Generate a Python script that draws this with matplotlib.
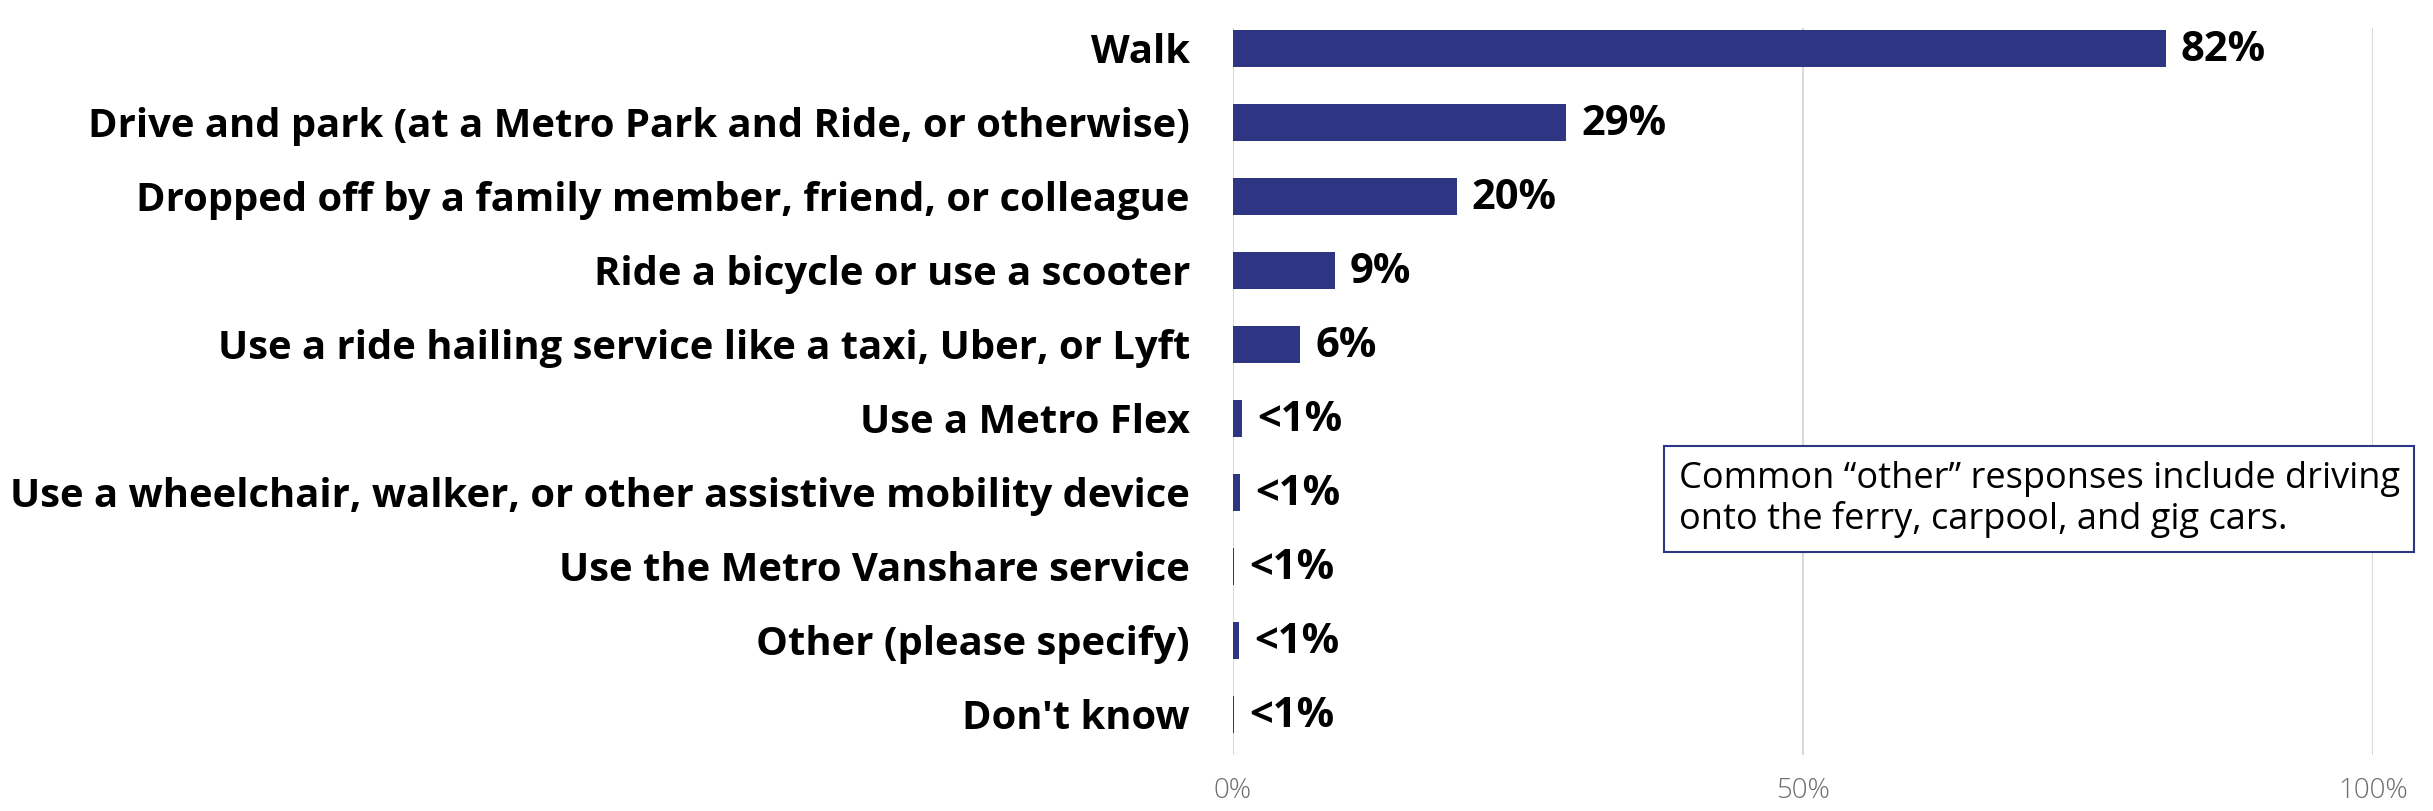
import matplotlib
matplotlib.use("Agg")
import matplotlib.pyplot as plt
from matplotlib.ticker import FuncFormatter

categories = [
    "Walk",
    "Drive and park (at a Metro Park and Ride, or otherwise)",
    "Dropped off by a family member, friend, or colleague",
    "Ride a bicycle or use a scooter",
    "Use a ride hailing service like a taxi, Uber, or Lyft",
    "Use a Metro Flex",
    "Use a wheelchair, walker, or other assistive mobility device",
    "Use the Metro Vanshare service",
    "Other (please specify)",
    "Don't know",
]
values = [0.818, 0.292, 0.196, 0.089, 0.059, 0.008, 0.006, 0.001, 0.005, 0.001]
value_labels = ["82%", "29%", "20%", "9%", "6%", "<1%", "<1%", "<1%", "<1%", "<1%"]
note = "Common \u201cother\u201d responses include driving\nonto the ferry, carpool, and gig cars."

bar_color = "#2E3583"
font = "Open Sans"

fig = plt.figure(figsize=(24.33, 8.11), dpi=100)
ax = fig.add_axes([0.5068, 0.069, 0.4686, 0.896])

y = list(range(len(categories)))
ax.barh(y, values, height=0.5, color=bar_color, zorder=3)

for yi, v, lab in zip(y, values, value_labels):
    ax.annotate(lab, (v, yi), xytext=(11, -1.5), textcoords="offset points",
                va="center", ha="left", fontsize=30, fontweight="bold",
                family=font, color="black")

ax.set_xlim(0, 1.0)
ax.set_ylim(9.55, -0.27)
ax.set_xticks([0, 0.5, 1.0])
ax.xaxis.set_major_formatter(FuncFormatter(lambda x, p: f"{x:.0%}"))
ax.set_yticks(y)
ax.set_yticklabels(categories, fontsize=28.8, fontweight="bold", family=font)
ax.tick_params(axis="y", length=0, pad=31)
ax.tick_params(axis="x", length=0, pad=16, labelsize=20, labelcolor="#6E6E6E")
for t in ax.get_xticklabels():
    t.set_family(font)
    t.set_fontweight("light")

ax.grid(axis="x", color="#D9D9D9", linewidth=1.5, zorder=0)
for s in ax.spines.values():
    s.set_visible(False)

ax.text(0.391, 5.57, note, fontsize=26, family=font, color="black",
        va="top", ha="left", linespacing=1.15,
        bbox=dict(boxstyle="square,pad=0.4", facecolor="white",
                  edgecolor=bar_color, linewidth=1.5), zorder=5)

fig.savefig("out.png", dpi=100)
